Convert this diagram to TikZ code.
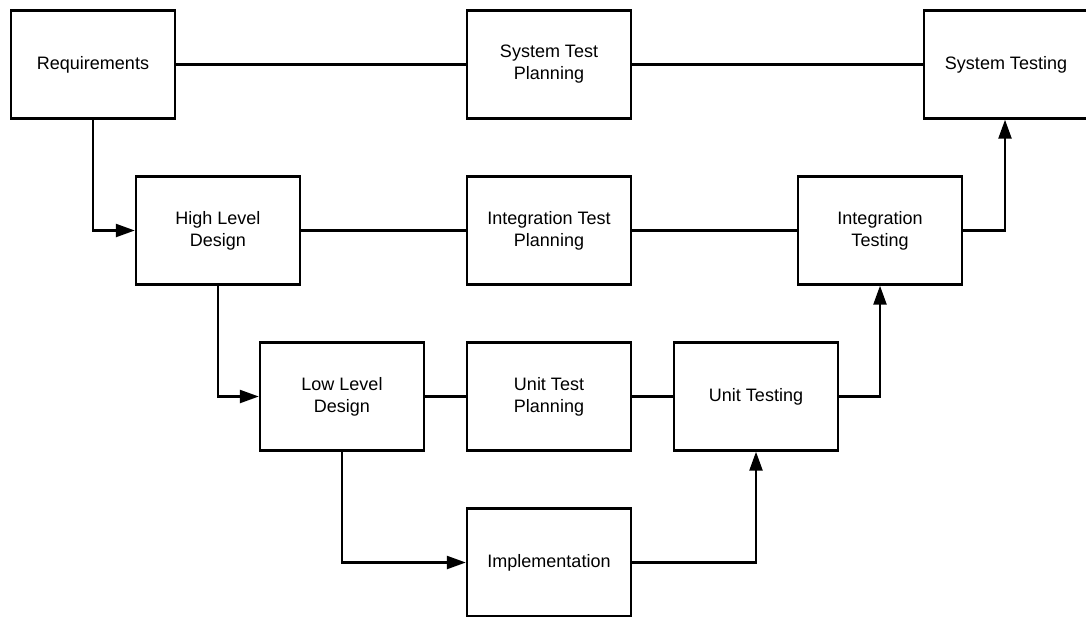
\documentclass[tikz,border=0pt]{standalone}
\usepackage{fontspec}
\setmainfont{Liberation Sans}
\usetikzlibrary{arrows.meta}
\begin{document}
\begin{tikzpicture}[x=1pt,y=-1pt,
  box/.style={draw,line width=2.4pt,minimum width=164pt,minimum height=108pt,inner sep=0pt,align=center,
    font=\fontsize{18}{22}\selectfont},
  link/.style={line width=2.4pt},
  flow/.style={line width=2.4pt,-{Triangle[length=19pt,width=13pt]}}]
\fill[white] (0,0) rectangle (1086,616);
\useasboundingbox (0,0) rectangle (1086,616);
\node[box] (req) at (93,64.5) {Requirements};
\node[box] (stp) at (549,64.5) {System Test\\Planning};
\node[box] (st) at (1006,64.5) {System Testing};
\node[box] (hld) at (218,230.5) {High Level\\Design};
\node[box] (itp) at (549,230.5) {Integration Test\\Planning};
\node[box] (it) at (880,230.5) {Integration\\Testing};
\node[box] (lld) at (342,396.5) {Low Level\\Design};
\node[box] (utp) at (549,396.5) {Unit Test\\Planning};
\node[box] (ut) at (756,396.5) {Unit Testing};
\node[box] (impl) at (549,562.5) {Implementation};
\draw[link] (req) -- (stp);
\draw[link] (stp) -- (st);
\draw[link] (hld) -- (itp);
\draw[link] (itp) -- (it);
\draw[link] (lld) -- (utp);
\draw[link] (utp) -- (ut);
\draw[flow] (req.south) |- (hld.west);
\draw[flow] (hld.south) |- (lld.west);
\draw[flow] (lld.south) |- (impl.west);
\draw[flow] (impl.east) -| (ut.south);
\draw[flow] (ut.east) -| (it.south);
\draw[flow] (it.east) -| ([xshift=-1pt]st.south);
\end{tikzpicture}
\end{document}
